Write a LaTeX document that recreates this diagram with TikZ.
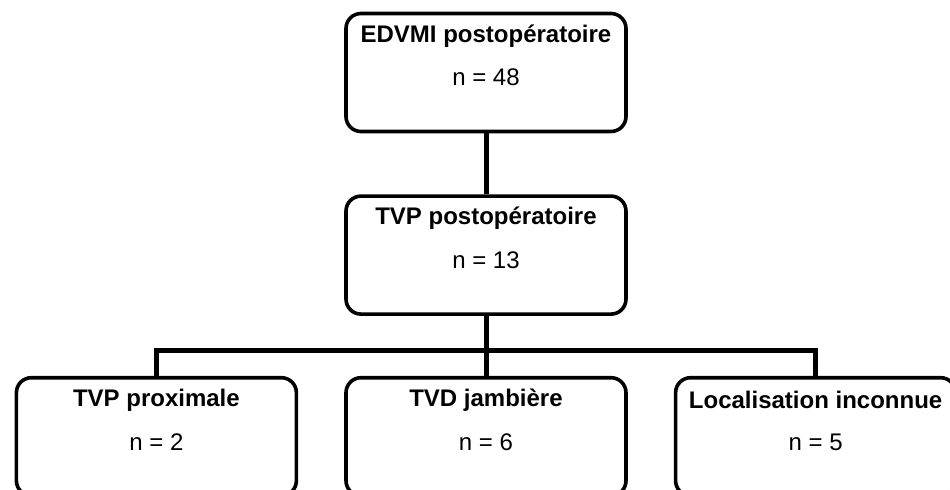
\documentclass[tikz,border=0pt]{standalone}
\usepackage{fontspec}
\setmainfont{Liberation Sans}
\usetikzlibrary{positioning}

\begin{document}
\begin{tikzpicture}[node distance={30pt}, box/.style = {draw, rounded corners=7.5pt, line width=1.8pt, minimum width=140pt, minimum height=59pt}, title/.style = {font=\fontsize{12}{14}\selectfont\bfseries}, count/.style = {font=\fontsize{12}{14}\selectfont}, link/.style = {line width=2.5pt}]
    \useasboundingbox (0,0) rectangle (475pt,-244.5pt);
    \clip (0,0) rectangle (475pt,-244.5pt);

    \node[box] (edvmi) at (243pt,-36.25pt) {};
    \node[box] (tvp) [below=30.5pt of edvmi] {};
    \node[box] (jamb) [below=30pt of tvp] {};
    \node[box] (prox) [left=23pt of jamb] {};
    \node[box] (loc) [right=23pt of jamb] {};

    \node[title] (edvmi-t) at ([yshift=-12pt]edvmi.north) {EDVMI postopératoire};
    \node[count] (edvmi-n) at ([yshift=-33pt]edvmi.north) {n = 48};
    \node[title] (tvp-t) at ([yshift=-12pt]tvp.north) {TVP postopératoire};
    \node[count] (tvp-n) at ([yshift=-33pt]tvp.north) {n = 13};
    \node[title] (prox-t) at ([yshift=-12pt]prox.north) {TVP proximale};
    \node[count] (prox-n) at ([yshift=-33pt]prox.north) {n = 2};
    \node[title] (jamb-t) at ([yshift=-12pt]jamb.north) {TVD jambière};
    \node[count] (jamb-n) at ([yshift=-33pt]jamb.north) {n = 6};
    \node[title] (loc-t) at ([yshift=-12pt]loc.north) {Localisation inconnue};
    \node[count] (loc-n) at ([yshift=-33pt]loc.north) {n = 5};

    \coordinate (fork) at ([yshift=12.5pt]jamb.north);
    \draw[link] (edvmi.south) -- (tvp.north);
    \draw[link] (tvp.south) -- (jamb.north);
    \draw[link] (prox.north) |- (fork) -| (loc.north);
\end{tikzpicture}
\end{document}
